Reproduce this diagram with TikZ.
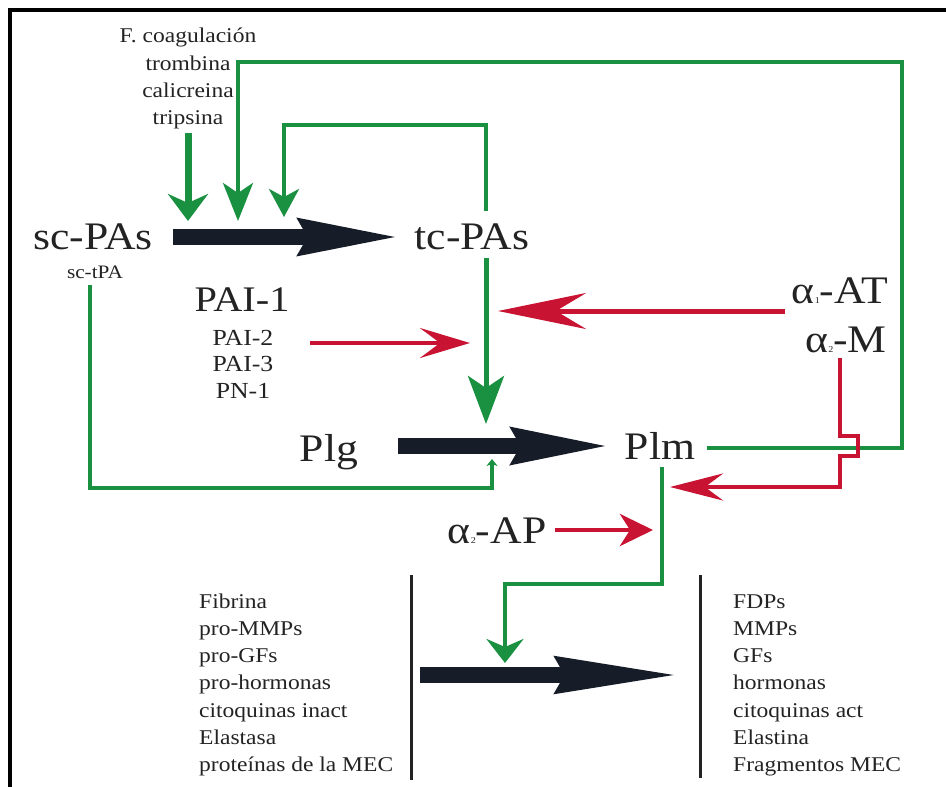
\documentclass[tikz,border=0pt]{standalone}
\usepackage{fontspec}
\setmainfont{Liberation Serif}[FakeStretch=1.12]
\usetikzlibrary{arrows.meta}
\definecolor{grn}{RGB}{25,145,65}
\definecolor{rd}{RGB}{200,20,50}
\definecolor{blk}{RGB}{22,28,40}
\definecolor{txt}{RGB}{35,35,35}
\newcommand\alphsub[1]{α\kern0.3pt{\fontsize{9}{9}\selectfont #1}}
\begin{document}
\begin{tikzpicture}[x=1pt,y=-1pt,
  every node/.style={inner sep=0pt, text=txt},
  bigtxt/.style={font=\fontsize{39}{42}\selectfont},
  medtxt/.style={font=\fontsize{23}{26}\selectfont},
  smalltxt/.style={font=\fontsize{21}{25}\selectfont},
  toptxt/.style={font=\fontsize{21}{25}\selectfont},
  gline/.style={draw=grn, line width=4pt, line join=miter},
  rline/.style={draw=rd, line width=4.5pt, line join=miter},
  bigarrow/.style={draw=blk, line width=16pt, -{Stealth[length=#1,width=35pt,inset=8pt]}},
  bigarrow/.default=100pt,
  sepline/.style={draw=txt, line width=3pt},
]
\useasboundingbox (0,0) rectangle (946,787);
\fill[white] (0,0) rectangle (946,787);
\draw[line width=4pt, line join=miter] (9.5,787) -- (9.5,10) -- (946,10);

% ---- texts
\node[toptxt, anchor=base] (fcoag) at (188,42) {F. coagulación};
\node[toptxt, anchor=base] (tromb) at (188,70) {trombina};
\node[toptxt, anchor=base] (calic) at (188,97) {calicreina};
\node[toptxt, anchor=base] (trips) at (188,124) {tripsina};

\node[bigtxt, anchor=base] (scpas) at (93,249) {sc-PAs};
\node[font=\fontsize{19}{22}\selectfont, anchor=base] (sctpa) at (95,278) {sc-tPA};
\node[bigtxt, anchor=base] (tcpas) at (472,249) {tc-PAs};
\node[font=\fontsize{36}{40}\selectfont, anchor=base] (pai1) at (242,311) {PAI-1};
\node[medtxt, anchor=base] (pai2) at (243,345) {PAI-2};
\node[medtxt, anchor=base] (pai3) at (243,371) {PAI-3};
\node[medtxt, anchor=base] (pn1) at (243,398) {PN-1};
\node[bigtxt, anchor=base east] (aat) at (888,303) {\alphsub{1}-AT};
\node[bigtxt, anchor=base east] (am) at (887,352) {\alphsub{2}-M};
\node[bigtxt, anchor=base] (plg) at (329,461) {Plg};
\node[bigtxt, anchor=base] (plm) at (660,459) {Plm};
\node[bigtxt, anchor=base] (aap) at (497,543) {\alphsub{2}-AP};

\foreach \t [count=\i] in {Fibrina, pro-MMPs, pro-GFs, pro-hormonas, citoquinas inact, Elastasa, proteínas de la MEC}
  \node[smalltxt, anchor=base west] (l\i) at (199,{608+27.3*(\i-1)}) {\t};
\foreach \t [count=\i] in {FDPs, MMPs, GFs, hormonas, citoquinas act, Elastina, Fragmentos MEC}
  \node[smalltxt, anchor=base west] (r\i) at (733,{608+27.3*(\i-1)}) {\t};

% ---- separator lines
\coordinate (sepLa) at (411,575); \coordinate (sepLb) at (411,780);
\coordinate (sepRa) at (700,575); \coordinate (sepRb) at (700,778);
\draw[sepline] (sepLa) -- (sepLb);
\draw[sepline] (sepRa) -- (sepRb);

% ---- big black arrows
\coordinate (k1s) at (173,237); \coordinate (k1e) at (400,237);
\coordinate (k2s) at (398,446); \coordinate (k2e) at (610,446);
\coordinate (k3s) at (420,675); \coordinate (k3e) at (680,675);
\draw[bigarrow] (k1s) -- (k1e);
\draw[bigarrow=97pt] (k2s) -- (k2e);
\draw[bigarrow=123pt] (k3s) -- (k3e);

% ---- green connectors
\coordinate (g1s) at (188,133); \coordinate (g1e) at (188,221);
\draw[gline, line width=7pt, -{Stealth[length=27pt,width=40pt,inset=9pt]}] (g1s) -- (g1e);

\coordinate (plmR) at (707,448); \coordinate (g2e) at (238,221);
\draw[gline, -{Stealth[length=38pt,width=30pt,inset=10pt]}] (plmR) -- (902,448) -- (902,62) -- (238,62) -- (g2e);

\coordinate (tcTop) at (486,211); \coordinate (g3e) at (284,217);
\draw[gline, -{Stealth[length=28pt,width=30pt,inset=8pt]}] (tcTop) -- (486,125) -- (284,125) -- (g3e);

\coordinate (tcBot) at (486,258); \coordinate (g4e) at (486,424);
\draw[gline, line width=5pt, -{Stealth[length=48pt,width=36pt,inset=12pt]}] (tcBot) -- (g4e);

\coordinate (sctBot) at (90,285); \coordinate (g5e) at (492,459);
\draw[gline, line width=3.5pt, -{Stealth[length=7pt,width=11pt,inset=2pt]}] (sctBot) -- (90,488) -- (492,488) -- (g5e);

\coordinate (plmBot) at (662,467); \coordinate (g6e) at (505,663);
\draw[gline, -{Stealth[length=24pt,width=37pt,inset=8pt]}] (plmBot) -- (662,584) -- (505,584) -- (g6e);

% ---- red connectors
\coordinate (r1s) at (310,343); \coordinate (r1e) at (470,343);
\draw[rline, -{Stealth[length=50pt,width=30pt,inset=20pt]}] (r1s) -- (r1e);

\coordinate (r2s) at (785,311); \coordinate (r2e) at (498,311);
\draw[rline, line width=5pt, -{Stealth[length=88pt,width=36pt,inset=30pt]}] (r2s) -- (r2e);

\coordinate (amBot) at (840,358); \coordinate (r3e) at (670,487);
\draw[rline, -{Stealth[length=53pt,width=27pt,inset=18pt]}] (amBot) -- (840,436) -- (858,436) -- (858,456) -- (840,456) -- (840,487) -- (r3e);

\coordinate (r4s) at (555,530); \coordinate (r4e) at (653,530);
\draw[rline, -{Stealth[length=33pt,width=32pt,inset=10pt]}] (r4s) -- (r4e);
\end{tikzpicture}
\end{document}
